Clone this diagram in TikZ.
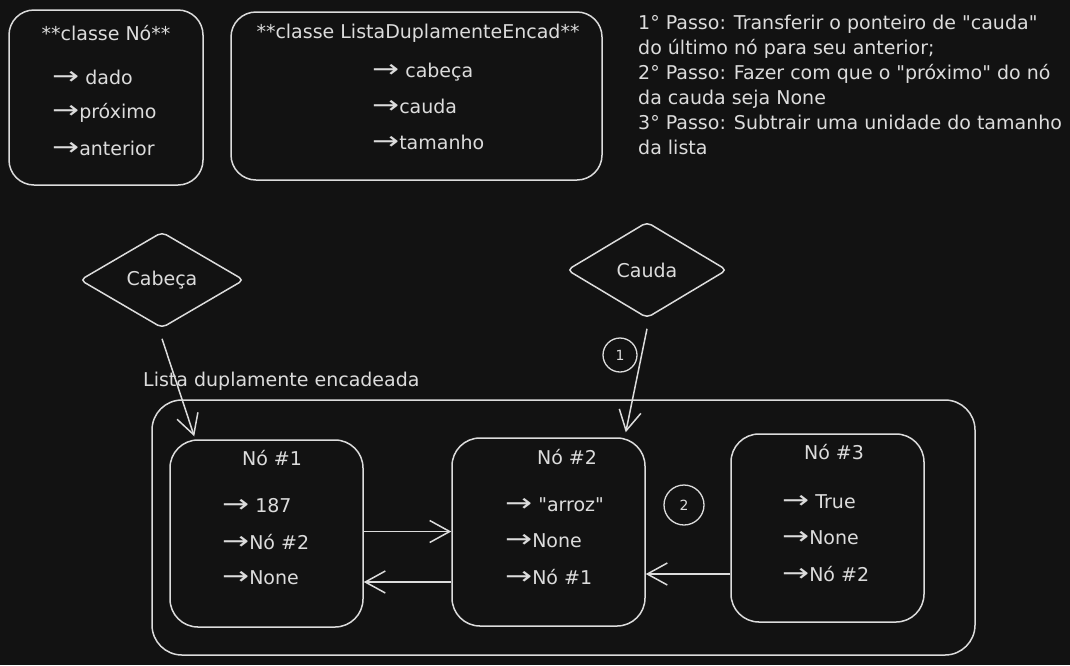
\documentclass[tikz,border=0pt]{standalone}
\usepackage{fontspec}
\usepackage{graphicx}
\setmainfont{DejaVu Sans}
\usetikzlibrary{shapes.geometric,arrows.meta}
\definecolor{fundo}{HTML}{121212}
\definecolor{traco}{HTML}{DCDCDC}
\def\flecha{\scalebox{1.7}[1.3]{→}}
\def\aspas{\textquotedbl}

\tikzset{
	caixa/.style={draw=traco, line width=1.5pt, rounded corners=28pt, inner sep=0pt},
	losango/.style={diamond, draw=traco, line width=1.5pt, rounded corners=5pt, inner sep=0pt, aspect=1.7},
	bola/.style={circle, draw=traco, line width=1.3pt, inner sep=0pt, text=traco, font=\fontsize{14}{16}\selectfont},
	texto/.style={text=traco, inner sep=0pt, font=\fontsize{19}{22}\selectfont},
	item/.style={texto, anchor=west},
	seta/.style={draw=traco, line width=1.5pt, -{Straight Barb[length=20pt, width=22pt]}}
}

\begin{document}
\begin{tikzpicture}[x=1pt, y=-1pt]
		%%%%% START %%%%%
		\fill[fundo] (0, 0) rectangle (1070, 665);
		\useasboundingbox (0, 0) rectangle (1070, 665);
		
		% classe No
		\node[caixa, rounded corners=25pt, minimum width=194, minimum height=175] (classeNo) at (106, 97.5) {};
		\node[texto] (tituloNo) at (106, 33) {**classe Nó**};
		\node[item] (dado) at (52, 77) {\flecha{} dado};
		\node[item] (proximo) at (52, 113) {\flecha próximo};
		\node[item] (anterior) at (52, 148) {\flecha anterior};
		
		% classe Lista
		\node[caixa, rounded corners=25pt, minimum width=371, minimum height=168] (classeLista) at (416.5, 96) {};
		\node[texto] (tituloLista) at (418, 33) {**classe ListaDuplamenteEncad**};
		\node[item] (cabecaAtr) at (372, 72) {\flecha{} cabeça};
		\node[item] (caudaAtr) at (372, 106) {\flecha cauda};
		\node[item] (tamanho) at (372, 142) {\flecha tamanho};
		
		% passos
		\node[texto, anchor=north west, align=left, font=\fontsize{19}{25}\selectfont] (passos) at (638, 15)
			{1° Passo: Transferir o ponteiro de \aspas cauda\aspas\\
			 do último nó para seu anterior;\\
			 2° Passo: Fazer com que o \aspas próximo\aspas{} do nó\\
			 da cauda seja None\\
			 3° Passo: Subtrair uma unidade do tamanho\\
			 da lista};
		
		% ponteiros
		\node[losango, minimum width=164, minimum height=96] (cabeca) at (162, 280) {};
		\node[texto] at (cabeca) {Cabeça};
		\node[losango, minimum width=160, minimum height=96] (cauda) at (647, 270) {};
		\node[texto] at (cauda) {Cauda};
		\node[bola, minimum size=34] (passo1) at (620, 355) {1};
		
		% lista
		\node[item] (rotulo) at (143, 381) {Lista duplamente encadeada};
		\node[caixa, rounded corners=30pt, minimum width=823, minimum height=255] (lista) at (563.5, 527.5) {};
		
		\node[caixa, minimum width=193, minimum height=187] (no1) at (266.5, 533.5) {};
		\node[texto] at (272, 458) {Nó \#1};
		\node[item] at (222, 506) {\flecha{} 187};
		\node[item] at (222, 542) {\flecha Nó \#2};
		\node[item] at (222, 578) {\flecha None};
		
		\node[caixa, minimum width=193, minimum height=188] (no2) at (548.5, 532) {};
		\node[texto] at (567, 457) {Nó \#2};
		\node[item] at (505, 505) {\flecha{} \aspas arroz\aspas};
		\node[item] at (505, 541) {\flecha None};
		\node[item] at (505, 577) {\flecha Nó \#1};
		
		\node[caixa, minimum width=193, minimum height=188] (no3) at (827.5, 528) {};
		\node[texto] at (834, 452) {Nó \#3};
		\node[item] at (782, 502) {\flecha{} True};
		\node[item] at (782, 538) {\flecha None};
		\node[item] at (782, 574) {\flecha Nó \#2};
		
		\node[bola, minimum size=40] (passo2) at (684, 505) {2};
		
		% ligacoes
		\draw[seta] ([yshift=-10pt]cabeca.south) -- ([xshift=25pt, yshift=3pt]no1.north west);
		\draw[seta] ([yshift=-10pt]cauda.south) -- ([xshift=-20pt, yshift=5pt]no2.north east);
		\draw[seta] ([yshift=2pt]no1.east) -- ([yshift=2pt]no1.east -| no2.west);
		\draw[seta] ([yshift=-50pt]no2.west) -- ([yshift=-50pt]no2.west -| no1.east);
		\draw[seta] ([yshift=-46pt]no3.west) -- ([yshift=-46pt]no3.west -| no2.east);
		%%%%% END %%%%%
\end{tikzpicture}
\end{document}
